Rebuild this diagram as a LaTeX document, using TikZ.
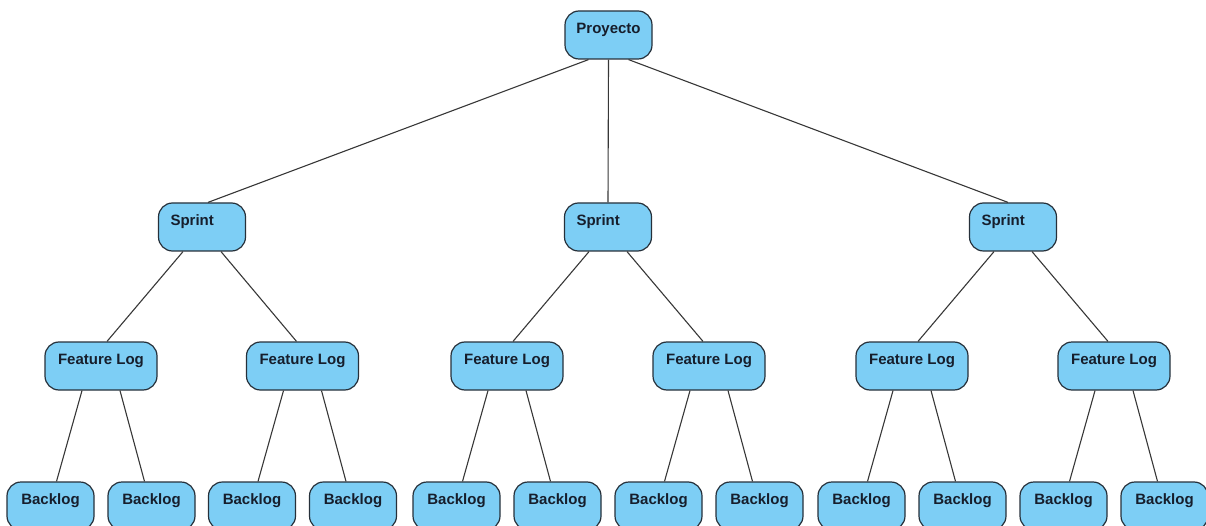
\documentclass[tikz,border=0pt]{standalone}
\usepackage{fontspec}
\setmainfont{Liberation Sans}
\definecolor{boxfill}{RGB}{125,206,245}
\definecolor{boxline}{RGB}{38,48,58}
\definecolor{boxtext}{RGB}{22,30,44}
\definecolor{wire}{RGB}{55,55,55}
\begin{document}
\begin{tikzpicture}[x=1pt,y=1pt,
  box/.style={draw=boxline, fill=boxfill, line width=1.2pt, rounded corners=14pt,
    minimum height=48pt, inner ysep=0pt, text height=10pt, text depth=13pt,
    text=boxtext, font=\fontsize{15}{17}\selectfont\bfseries},
  rootbox/.style={box, minimum width=87pt, inner xsep=4pt},
  sprintbox/.style={box, text width=63pt, inner xsep=12pt, align=left},
  featbox/.style={box, minimum width=112pt, inner xsep=4pt},
  backbox/.style={box, minimum width=87pt, inner xsep=4pt},
  wire/.style={draw=wire, line width=1.1pt}
]
\useasboundingbox (0,0) rectangle (1206,-526);

% root
\node[rootbox] (root) at (608.5,-35) {Proyecto};

% sprints
\foreach \i/\x in {1/202,2/608,3/1013}
  \node[sprintbox] (s\i) at (\x,-227) {Sprint};

% feature logs
\foreach \i/\x in {1/101,2/302.5,3/507,4/709,5/912,6/1114}
  \node[featbox] (f\i) at (\x,-366) {Feature Log};

% backlogs, two under each feature log
\foreach \i in {1,...,6}{
  \path (f\i) ++(-50.5,-140) node[backbox] (b\i a) {Backlog};
  \path (f\i) ++(50.5,-140) node[backbox] (b\i b) {Backlog};
}

% root to sprints
\draw[wire] ([xshift=-20pt]root.south) -- ([xshift=6pt]s1.north);
\draw[wire] (root.south) -- (s2.north);
\draw[wire] ([xshift=20pt]root.south) -- ([xshift=-5pt]s3.north);

% sprints to feature logs
\foreach \s/\l/\r in {1/1/2,2/3/4,3/5/6}{
  \draw[wire] ([xshift=-19pt]s\s.south) -- ([xshift=6pt]f\l.north);
  \draw[wire] ([xshift=19pt]s\s.south) -- ([xshift=-6pt]f\r.north);
}

% feature logs to backlogs
\foreach \i in {1,...,6}{
  \draw[wire] ([xshift=-19pt]f\i.south) -- ([xshift=6pt]b\i a.north);
  \draw[wire] ([xshift=19pt]f\i.south) -- ([xshift=-7pt]b\i b.north);
}
\end{tikzpicture}
\end{document}
